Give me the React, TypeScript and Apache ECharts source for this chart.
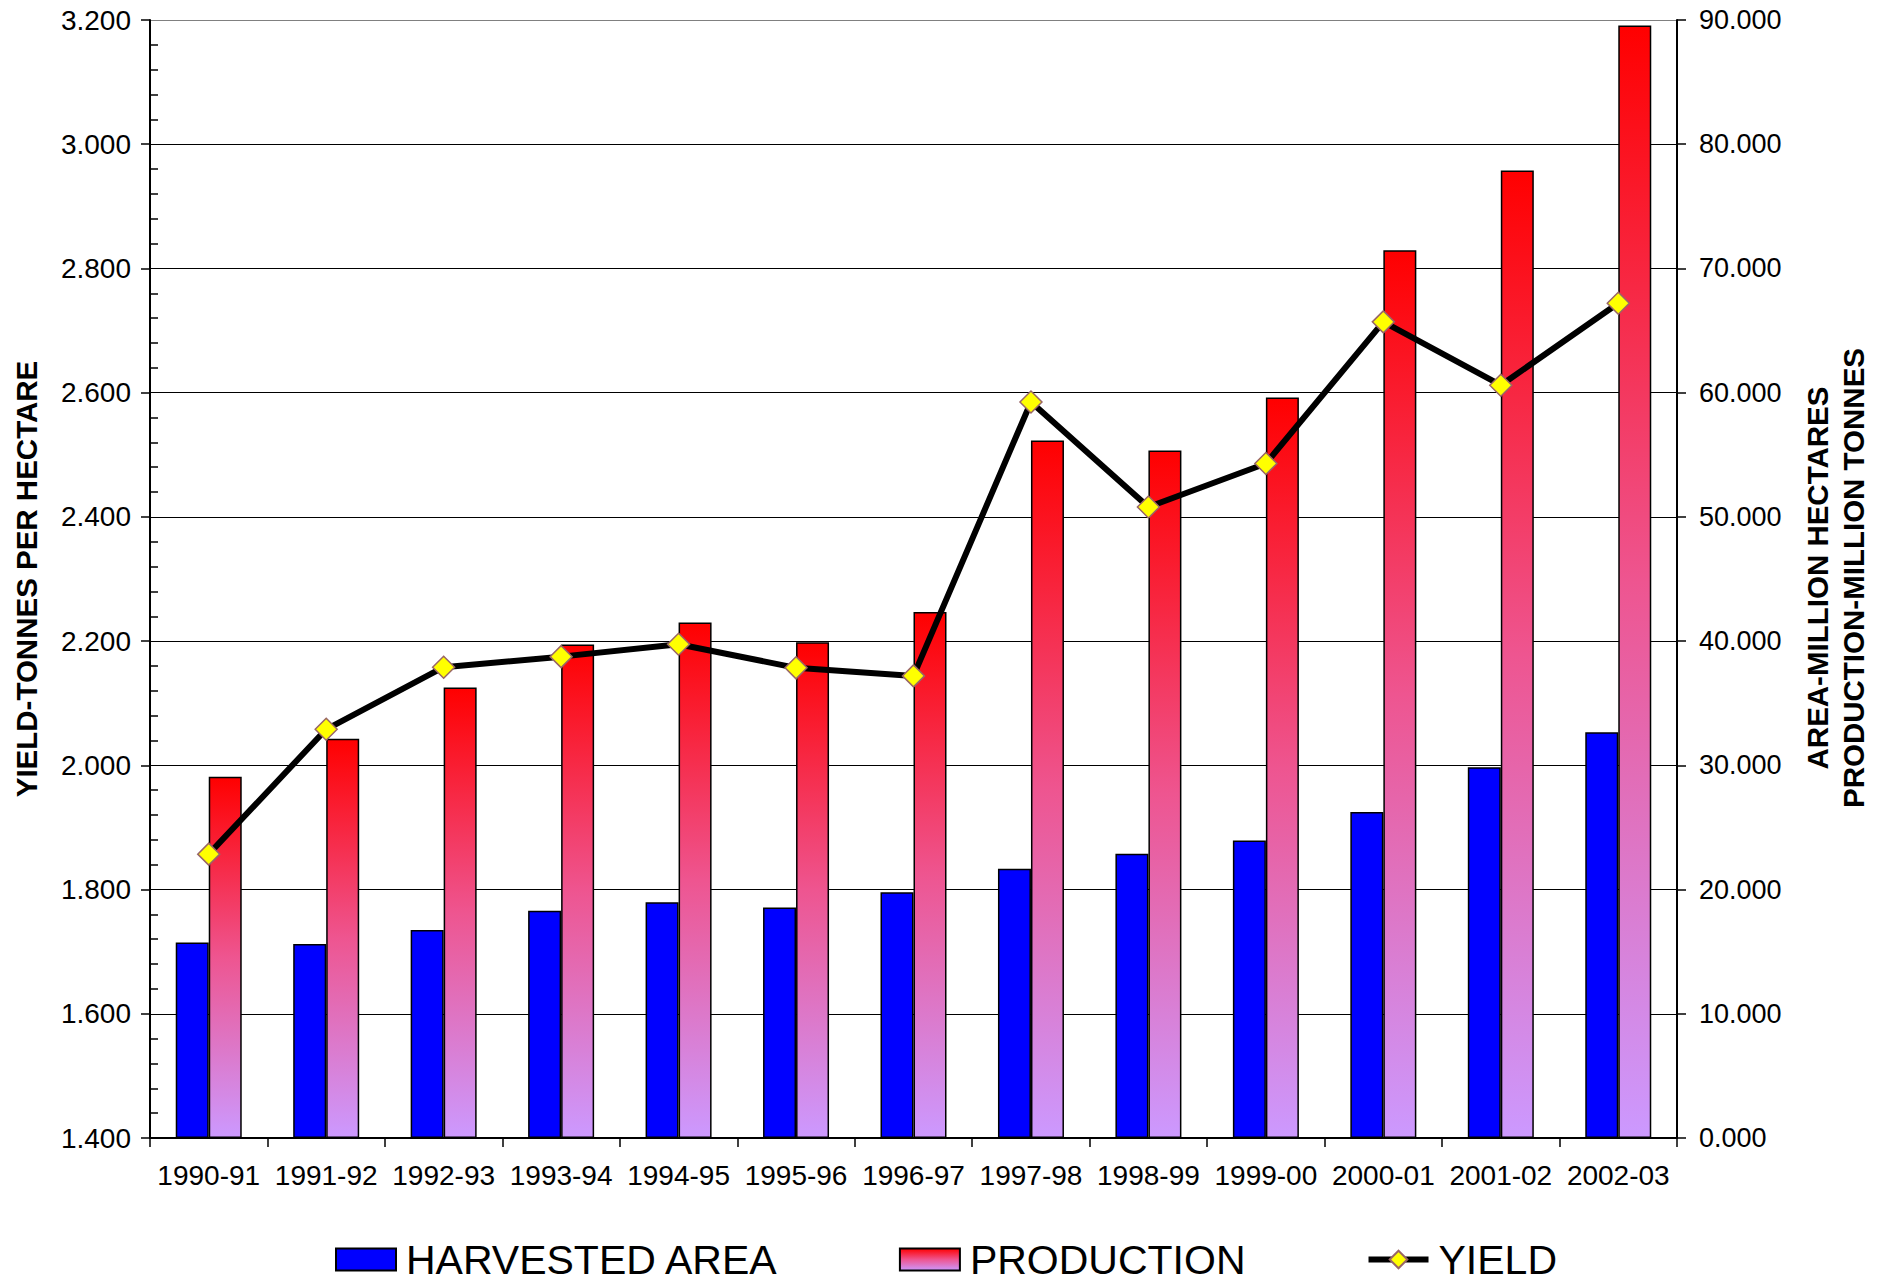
import React, { useEffect, useRef } from "react";
import * as echarts from "echarts";

const categories = [
  "1990-91", "1991-92", "1992-93", "1993-94", "1994-95", "1995-96", "1996-97",
  "1997-98", "1998-99", "1999-00", "2000-01", "2001-02", "2002-03",
];
const harvestedArea = [15.73, 15.62, 16.75, 18.3, 18.98, 18.55, 19.78, 21.68, 22.89, 23.94, 26.25, 29.84, 32.66];
const production = [29.09, 32.15, 36.26, 39.73, 41.49, 39.91, 42.35, 56.14, 55.34, 59.61, 71.47, 77.88, 89.56];
const yieldValues = [1.857, 2.058, 2.158, 2.175, 2.195, 2.157, 2.144, 2.585, 2.416, 2.486, 2.714, 2.612, 2.744];

const leftAxisTitle = "YIELD-TONNES PER HECTARE";
const rightAxisTitle = "AREA-MILLION HECTARES\nPRODUCTION-MILLION TONNES";

const FONT = "'Liberation Sans', Arial, Helvetica, sans-serif";

export default function App() {
  const ref = useRef<HTMLDivElement>(null);

  useEffect(() => {
    if (!ref.current) return;
    const chart = echarts.init(ref.current, undefined, { renderer: "svg" });

    const splitColors: string[] = [];
    for (let i = 0; i < 10; i++) splitColors.push(i === 9 ? "#808080" : "#000000");

    chart.setOption({
      animation: false,
      backgroundColor: "#ffffff",
      textStyle: { fontFamily: FONT },
      grid: { left: 150, right: 202, top: 20, bottom: 144, containLabel: false },
      legend: {
        left: 330,
        top: 1234,
        itemWidth: 60,
        itemHeight: 22,
        itemGap: 120,
        lineStyle: { width: 6 },
        textStyle: {
          fontSize: 41,
          lineHeight: 40,
          color: "#000",
          fontFamily: FONT,
          padding: [0, 0, 0, 5],
        },
        data: [
          { name: "HARVESTED AREA", icon: "rect" },
          { name: "PRODUCTION", icon: "rect" },
          { name: "YIELD" },
        ],
      },
      xAxis: {
        type: "category",
        data: categories,
        boundaryGap: true,
        axisLine: { show: true, lineStyle: { color: "#000", width: 2 } },
        axisTick: { show: true, length: 9, lineStyle: { color: "#000", width: 1.5 } },
        axisLabel: { fontSize: 28, color: "#000", margin: 23, fontFamily: FONT, interval: 0 },
        splitLine: { show: false },
      },
      yAxis: [
        {
          type: "value",
          position: "left",
          min: 1.4,
          max: 3.2,
          interval: 0.2,
          axisLine: { show: true, lineStyle: { color: "#000", width: 2 } },
          axisTick: { show: true, length: 9, lineStyle: { color: "#000", width: 1.5 } },
          axisLabel: {
            fontSize: 28,
            color: "#000",
            margin: 19,
            fontFamily: FONT,
            formatter: (v: number) => v.toFixed(3),
          },
          splitLine: { show: true, lineStyle: { color: splitColors, width: 1.2 } },
        },
        {
          type: "value",
          position: "right",
          min: 0,
          max: 90,
          interval: 10,
          axisLine: { show: true, lineStyle: { color: "#000", width: 2 } },
          axisTick: { show: true, length: 9, lineStyle: { color: "#000", width: 1.5 } },
          axisLabel: {
            fontSize: 27,
            color: "#000",
            margin: 22,
            fontFamily: FONT,
            formatter: (v: number) => v.toFixed(3),
          },
          splitLine: { show: false },
        },
        {
          type: "value",
          position: "left",
          min: 1.4,
          max: 3.2,
          interval: 0.2,
          axisLine: { show: false },
          axisTick: { show: false, inside: true },
          minorTick: { show: true, splitNumber: 5, length: 8, lineStyle: { color: "#000", width: 1.5 } },
          axisLabel: { show: false },
          splitLine: { show: false },
        },
      ],
      graphic: [
        {
          type: "text",
          x: 26,
          y: 579,
          rotation: Math.PI / 2,
          style: {
            text: leftAxisTitle,
            fill: "#000",
            fontSize: 29.5,
            fontWeight: "bold",
            fontFamily: FONT,
            align: "center",
            verticalAlign: "middle",
          },
        },
        {
          type: "text",
          x: 1835,
          y: 578,
          rotation: Math.PI / 2,
          style: {
            text: rightAxisTitle,
            fill: "#000",
            fontSize: 29.5,
            fontWeight: "bold",
            fontFamily: FONT,
            align: "center",
            verticalAlign: "middle",
            lineHeight: 36,
          },
        },
      ],
      series: [
        {
          name: "HARVESTED AREA",
          type: "bar",
          yAxisIndex: 1,
          data: harvestedArea,
          barWidth: 33,
          barGap: "0%",
          itemStyle: { color: "#0000FF", borderColor: "#000", borderWidth: 1.5 },
        },
        {
          name: "PRODUCTION",
          type: "bar",
          yAxisIndex: 1,
          data: production,
          barWidth: 33,
          barGap: "0%",
          itemStyle: {
            color: new echarts.graphic.LinearGradient(0, 0, 0, 1, [
              { offset: 0, color: "#FF0000" },
              { offset: 0.5, color: "#EE5590" },
              { offset: 1, color: "#CC99FF" },
            ]),
            borderColor: "#000",
            borderWidth: 1.5,
          },
        },
        {
          name: "YIELD",
          type: "line",
          yAxisIndex: 0,
          data: yieldValues,
          symbol: "diamond",
          symbolSize: 22,
          lineStyle: { color: "#000", width: 6 },
          itemStyle: { color: "#FFFF00", borderColor: "#996666", borderWidth: 1.5 },
          z: 5,
        },
      ],
    });

    return () => chart.dispose();
  }, []);

  return (
    <div
      ref={ref}
      style={{ position: "absolute", left: 0, top: 0, width: 1879, height: 1282 }}
    />
  );
}
